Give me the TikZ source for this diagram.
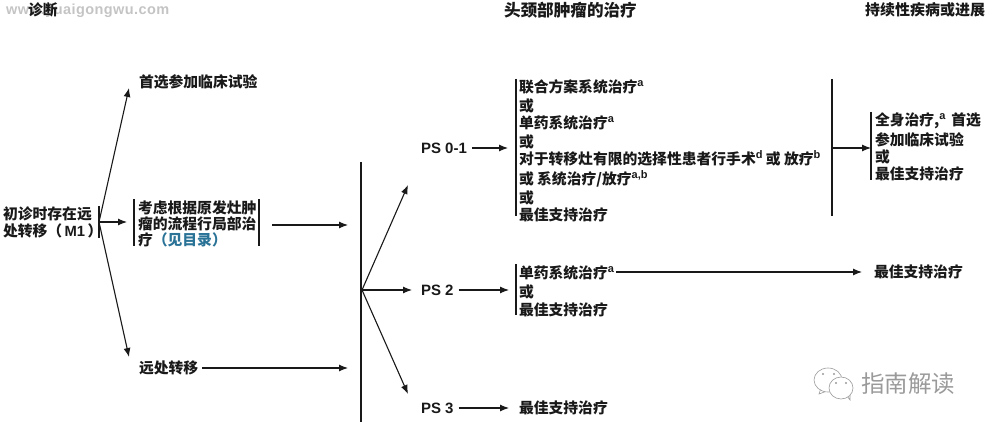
\documentclass[tikz,border=0pt]{standalone}
\usepackage{fontspec}
\setmainfont{Noto Sans CJK SC}
\newfontfamily\latf{Liberation Sans}
\newfontfamily\wmf[LetterSpace=3]{Liberation Sans}
\newcommand{\lat}[1]{{\latf\bfseries #1}}
\newcommand{\sps}[1]{\raisebox{5.5pt}{\latf\bfseries\fontsize{11}{11}\selectfont #1}}
\usetikzlibrary{arrows.meta}
\definecolor{linkblue}{HTML}{2A7397}
\definecolor{wmgray}{HTML}{C4C4C4}
\definecolor{wxgray}{HTML}{9A9A9A}
\tikzset{
  txt/.style={inner sep=0pt,outer sep=0pt,align=left,font=\fontsize{14.8}{17}\bfseries\selectfont,text=black!90},
  hdr/.style={txt},
  brk/.style={inner sep=0pt,outer sep=0pt,draw=none},
  bar/.style={line width=1.2pt,black!90},
  lin/.style={line width=1.1pt,black!90},
  arr/.style={lin,-{Latex[length=9pt,width=7pt]}},
}
\begin{document}
\begin{tikzpicture}[x=1pt,y=-1pt]
\useasboundingbox (0,0) rectangle (987,427);
% watermark
\node[inner sep=0pt,anchor=west,text=wmgray] (wm) at (6,10.5) {\wmf\bfseries\fontsize{14.5}{15}\selectfont www.yuaigongwu.com};
% headers
\node[hdr,anchor=west,text width=40pt] (h1) at (28,10) {诊断};
\node[hdr,anchor=west] (h2) at (504,10) {\fontsize{16.6}{17}\selectfont 头颈部肿瘤的治疗};
\node[hdr,anchor=west] (h3) at (865,10) {\fontsize{15}{17}\selectfont 持续性疾病或进展};
% left column
\node[txt,anchor=east,minimum height=32pt,text width=96pt] (m1) at (99,222) {初诊时存在远\\处转移（\,\lat{M1}\,）};
\draw[bar] (m1.north east) -- (m1.south east);
\node[txt,anchor=west] (trial) at (139,82) {首选参加临床试验};
\node[brk,anchor=west,minimum width=125pt,minimum height=47pt] (local) at (134,223) {};
\node[txt,anchor=west,font=\fontsize{14.8}{16}\bfseries\selectfont] (localt) at (138,224) {考虑根据原发灶肿\\瘤的流程行局部治\\疗{\color{linkblue}（见目录）}};
\draw[bar] (local.north west) -- (local.south west);
\draw[bar] (local.north east) -- (local.south east);
\node[txt,anchor=west] (dist) at (139,368) {远处转移};
\coordinate (trialin) at (129,88);
\coordinate (distin) at (129,357);
\draw[arr] (m1.east) -- (trialin);
\draw[arr] (m1.east) -- ([xshift=-7pt]m1.east -| local.west);
\draw[arr] (m1.east) -- (distin);
% vertical collector
\node[brk,anchor=north,minimum width=0pt,minimum height=260pt] (coll) at (361,162) {};
\draw[bar] (coll.north) -- (coll.south);
\coordinate (fan) at (362,290);
\coordinate (localout) at (272,225);
\draw[arr] (localout) -- ([xshift=-13pt]localout -| coll.west);
\draw[arr] ([xshift=4pt]dist.east) -- ([xshift=-13pt]dist.east -| coll.west);
% PS nodes
\node[txt,anchor=west] (ps0) at (421,148) {\fontsize{15}{17}\selectfont\lat{PS 0-1}};
\node[txt,anchor=west] (ps2) at (421,290) {\fontsize{15}{17}\selectfont\lat{PS 2}};
\node[txt,anchor=west] (ps3) at (421,408) {\fontsize{15}{17}\selectfont\lat{PS 3}};
\coordinate (ps0in) at (408,185);
\coordinate (ps3in) at (408,394);
\draw[arr] (fan) -- (ps0in);
\draw[arr] (fan) -- ([xshift=-9pt]ps2.west);
\draw[arr] (fan) -- (ps3in);
% treatment lists
\node[brk,anchor=north west,minimum width=316pt,minimum height=137pt] (b0) at (516,79) {};
\draw[bar] (b0.north west) -- (b0.south west);
\draw[bar] (b0.north east) -- (b0.south east);
\node[txt,anchor=north west] (l0) at (519,79.5) {联合方案系统治疗\sps{a}\\[2pt]或\\单药系统治疗\sps{a}\\[2pt]或\\对于转移灶有限的选择性患者行手术\sps{d} 或 放疗\sps{b}\\[3pt]或 系统治疗/放疗\sps{a,b}\\[2pt]或\\最佳支持治疗};
\draw[arr] ([xshift=5pt]ps0.east) -- ([xshift=-8pt]ps0.east -| b0.west);
\node[brk,anchor=north west,minimum width=0pt,minimum height=51pt] (b2) at (516,264) {};
\draw[bar] (b2.north west) -- (b2.south west);
\node[txt,anchor=north west] (l2) at (519,265.5) {单药系统治疗\sps{a}\\[2pt]或\\[1pt]最佳支持治疗};
\draw[arr] ([xshift=5pt]ps2.east) -- ([xshift=-7pt]ps2.east -| b2.west);
\node[txt,anchor=west] (l3) at (519,408) {最佳支持治疗};
\draw[arr] ([xshift=5pt]ps3.east) -- ([xshift=-10pt]l3.west);
% right column
\node[brk,anchor=north west,minimum width=0pt,minimum height=68pt] (b4) at (871,112) {};
\draw[bar] (b4.north west) -- (b4.south west);
\node[txt,anchor=north west] (r0) at (875,112.5) {全身治疗,\sps{a} \,首选\\[3pt]参加临床试验\\或\\最佳支持治疗};
\draw[arr] (b0.east |- ps0) -- (b4.west |- ps0);
\node[txt,anchor=west] (r2) at (874,272) {最佳支持治疗};
\coordinate (l2out) at (616,272);
\draw[arr] (l2out) -- ([xshift=-12pt]r2.west);
% WeChat watermark
\begin{scope}[draw=wxgray,line width=0.6pt]
\draw[fill=white] (821,388) -- (819,394) -- (827,391);
\draw[fill=white] (828,380) ellipse [x radius=14pt,y radius=12pt];
\draw[fill=white] (847,396) -- (850,400) -- (850,392);
\draw[fill=white] (841,388) ellipse [x radius=12pt,y radius=11pt];
\fill[wxgray] (823,374) circle (1.2pt) (834,374) circle (1.2pt) (836,383) circle (1.1pt) (846,383) circle (1.1pt);
\end{scope}
\node[inner sep=0pt,anchor=west,text=wxgray] (wx) at (861,384) {\fontsize{23.5}{24}\selectfont 指南解读};
\end{tikzpicture}
\end{document}
